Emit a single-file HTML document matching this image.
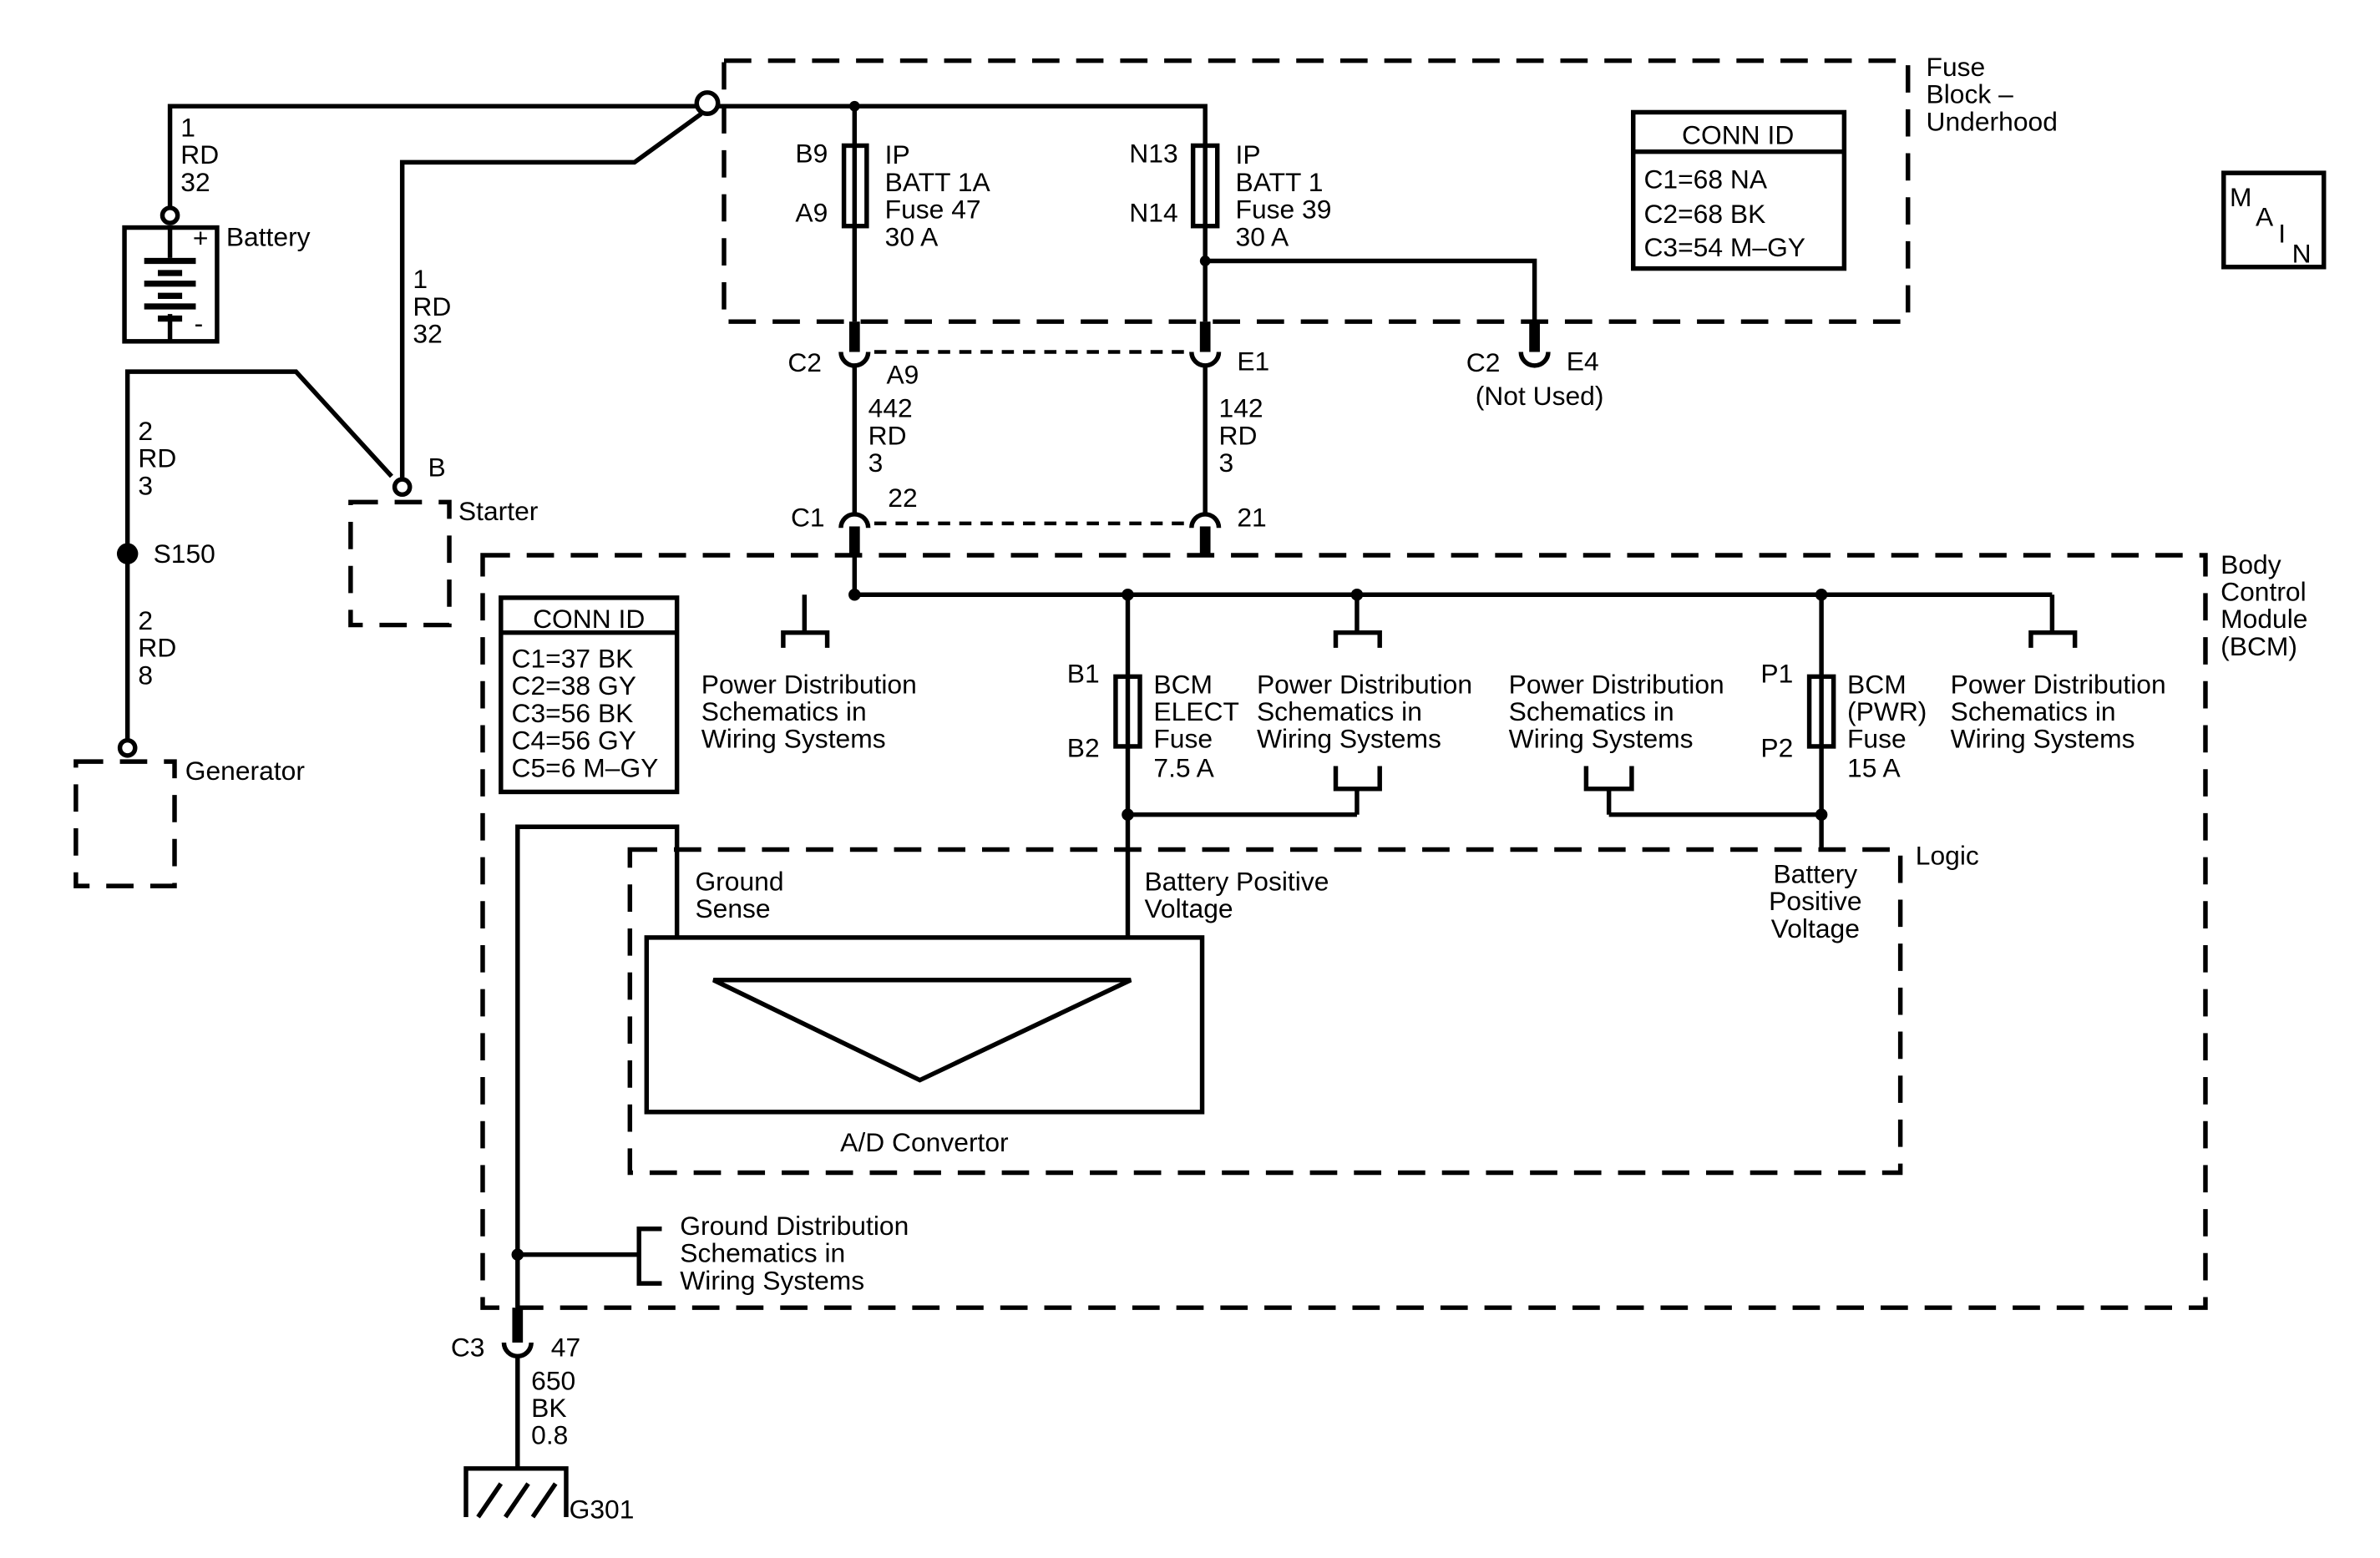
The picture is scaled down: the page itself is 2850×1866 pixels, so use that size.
<!DOCTYPE html>
<html><head><meta charset="utf-8"><style>
html,body{margin:0;padding:0;background:#fff}
svg{display:block}
text{font-family:"Liberation Sans",Arial,sans-serif;font-size:17.5px;fill:#000}
</style></head><body>
<svg width="2850" height="1866" viewBox="0 0 1568 1027" preserveAspectRatio="none" xmlns="http://www.w3.org/2000/svg">
<rect width="1568" height="1027" fill="#fff"/>
<g fill="none" stroke="#000" stroke-width="3">
<g stroke-dasharray="18 11">
<rect x="477" y="40" width="780" height="172"/>
<rect x="318" y="366" width="1135" height="496"/>
<rect x="415" y="560" width="837" height="213"/>
<rect x="231" y="331" width="65" height="81"/>
<rect x="50" y="502" width="65" height="82"/>
</g>
<g stroke-dasharray="8 6" stroke-width="2.5">
<line x1="576" y1="232" x2="782" y2="232"/>
<line x1="576" y1="345" x2="782" y2="345"/>
</g>
<polyline points="112,137 112,70 460,70"/>
<circle cx="112" cy="142" r="5"/>
<rect x="82" y="150" width="61" height="75"/>
<line x1="112" y1="150" x2="112" y2="170"/>
<line x1="112" y1="207" x2="112" y2="225"/>
<g stroke-width="4">
<line x1="95" y1="172" x2="129" y2="172"/><line x1="104" y1="180" x2="120" y2="180"/>
<line x1="95" y1="187" x2="129" y2="187"/><line x1="104" y1="195" x2="120" y2="195"/>
<line x1="95" y1="202" x2="129" y2="202"/><line x1="104" y1="210" x2="120" y2="210"/>
</g>
<circle cx="466" cy="68" r="7"/>
<polyline points="473,70 794,70 794,96"/>
<polyline points="462,75 418,107 265,107 265,316"/>
<circle cx="265" cy="321" r="5"/>
<polyline points="84,488 84,245 195,245 258,314"/>
<circle cx="84" cy="493" r="5"/>
<line x1="563" y1="70" x2="563" y2="212"/>
<rect x="556" y="96" width="15" height="53" fill="#fff"/>
<line x1="563" y1="96" x2="563" y2="149"/>
<line x1="794" y1="96" x2="794" y2="212"/>
<rect x="786" y="96" width="16" height="53" fill="#fff"/>
<line x1="794" y1="96" x2="794" y2="149"/>
<polyline points="794,172 1011,172 1011,212"/>
<path d="M554,232 A9,9 0 0 0 572,232"/>
<path d="M785,232 A9,9 0 0 0 803,232"/>
<path d="M1002,232 A9,9 0 0 0 1020,232"/>
<line x1="563" y1="241" x2="563" y2="338"/>
<line x1="794" y1="241" x2="794" y2="338"/>
<path d="M554,348 A9,9 0 0 1 572,348"/>
<path d="M785,348 A9,9 0 0 1 803,348"/>
<line x1="563" y1="365" x2="563" y2="392"/>
<line x1="563" y1="392" x2="1352" y2="392"/>
<polyline points="516,427 516,417 545,417 545,427"/><line x1="530" y1="392" x2="530" y2="417"/>
<polyline points="880,427 880,417 909,417 909,427"/><line x1="894" y1="392" x2="894" y2="417"/>
<polyline points="1338,427 1338,417 1367,417 1367,427"/><line x1="1352" y1="392" x2="1352" y2="417"/>
<polyline points="880,505 880,520 909,520 909,505"/><line x1="894" y1="520" x2="894" y2="537"/>
<polyline points="1045,505 1045,520 1075,520 1075,505"/><line x1="1060" y1="520" x2="1060" y2="537"/>
<line x1="743" y1="537" x2="894" y2="537"/>
<line x1="1060" y1="537" x2="1200" y2="537"/>
<line x1="743" y1="392" x2="743" y2="618"/>
<rect x="735" y="446" width="16" height="46" fill="#fff"/><line x1="743" y1="446" x2="743" y2="492"/>
<line x1="1200" y1="392" x2="1200" y2="560"/>
<rect x="1192" y="446" width="16" height="46" fill="#fff"/><line x1="1200" y1="446" x2="1200" y2="492"/>
<rect x="1076" y="74" width="139" height="103"/><line x1="1076" y1="100" x2="1215" y2="100"/>
<rect x="1465" y="114" width="66" height="62"/>
<rect x="330" y="394" width="116" height="128"/><line x1="330" y1="417" x2="446" y2="417"/>
<polyline points="341,862 341,545 446,545 446,618"/>
<line x1="341" y1="827" x2="421" y2="827"/>
<polyline points="436,810 421,810 421,846 436,846"/>
<path d="M332,885 A9,9 0 0 0 350,885"/>
<line x1="341" y1="894" x2="341" y2="968"/>
<polyline points="307,1000 307,968 373,968 373,1000"/>
<line x1="315" y1="1000" x2="330" y2="978"/>
<line x1="333" y1="1000" x2="348" y2="978"/>
<line x1="351" y1="1000" x2="366" y2="978"/>
<rect x="426" y="618" width="366" height="115"/>
<polygon points="470,646 745,646 606,712"/>
</g>
<g fill="#000">
<circle cx="563" cy="70" r="3.5"/><circle cx="794" cy="172" r="3.5"/>
<circle cx="563" cy="392" r="4"/><circle cx="743" cy="392" r="4"/><circle cx="894" cy="392" r="4"/><circle cx="1200" cy="392" r="4"/>
<circle cx="743" cy="537" r="4"/><circle cx="1200" cy="537" r="4"/>
<circle cx="341" cy="827" r="4"/>
<circle cx="84" cy="365" r="7"/>
<rect x="559.5" y="212" width="7" height="20"/><rect x="790.5" y="212" width="7" height="20"/><rect x="1007.5" y="212" width="7" height="20"/>
<rect x="559.5" y="347" width="7" height="20"/><rect x="790.5" y="347" width="7" height="20"/>
<rect x="337.5" y="862" width="7" height="23"/>
</g>
<g>
<text x="119" y="90">1</text><text x="119" y="108">RD</text><text x="119" y="126">32</text>
<text x="127" y="163" font-size="14">+</text><text x="128" y="219" font-size="14">-</text>
<text x="149" y="162">Battery</text>
<text x="272" y="190">1</text><text x="272" y="208">RD</text><text x="272" y="226">32</text>
<text x="91" y="290">2</text><text x="91" y="308">RD</text><text x="91" y="326">3</text>
<text x="101" y="371">S150</text>
<text x="91" y="415">2</text><text x="91" y="433">RD</text><text x="91" y="451">8</text>
<text x="282" y="314">B</text><text x="302" y="343">Starter</text>
<text x="122" y="514">Generator</text>
<text x="1269" y="50">Fuse</text><text x="1269" y="68">Block –</text><text x="1269" y="86">Underhood</text>
<text x="1145" y="95" text-anchor="middle" font-size="18.5">CONN ID</text>
<text x="1083" y="124" font-size="18.5">C1=68 NA</text><text x="1083" y="147" font-size="18.5">C2=68 BK</text><text x="1083" y="169" font-size="18.5">C3=54 M–GY</text>
<text x="1469" y="136">M</text><text x="1486" y="149">A</text><text x="1501" y="160">I</text><text x="1510" y="173">N</text>
<text x="524" y="107">B9</text><text x="524" y="146">A9</text>
<text x="583" y="108">IP</text><text x="583" y="126">BATT 1A</text><text x="583" y="144">Fuse 47</text><text x="583" y="162">30 A</text>
<text x="744" y="107">N13</text><text x="744" y="146">N14</text>
<text x="814" y="108">IP</text><text x="814" y="126">BATT 1</text><text x="814" y="144">Fuse 39</text><text x="814" y="162">30 A</text>
<text x="519" y="245">C2</text><text x="584" y="253">A9</text><text x="815" y="244">E1</text>
<text x="966" y="245">C2</text><text x="1032" y="244">E4</text><text x="972" y="267">(Not Used)</text>
<text x="572" y="275">442</text><text x="572" y="293">RD</text><text x="572" y="311">3</text>
<text x="803" y="275">142</text><text x="803" y="293">RD</text><text x="803" y="311">3</text>
<text x="521" y="347">C1</text><text x="585" y="334">22</text><text x="815" y="347">21</text>
<text x="1463" y="378">Body</text><text x="1463" y="396">Control</text><text x="1463" y="414">Module</text><text x="1463" y="432">(BCM)</text>
<text x="388" y="414" text-anchor="middle">CONN ID</text>
<text x="337" y="440">C1=37 BK</text><text x="337" y="458">C2=38 GY</text><text x="337" y="476">C3=56 BK</text><text x="337" y="494">C4=56 GY</text><text x="337" y="512">C5=6 M–GY</text>
<text x="462" y="457">Power Distribution</text><text x="462" y="475">Schematics in</text><text x="462" y="493">Wiring Systems</text>
<text x="828" y="457">Power Distribution</text><text x="828" y="475">Schematics in</text><text x="828" y="493">Wiring Systems</text>
<text x="994" y="457">Power Distribution</text><text x="994" y="475">Schematics in</text><text x="994" y="493">Wiring Systems</text>
<text x="1285" y="457">Power Distribution</text><text x="1285" y="475">Schematics in</text><text x="1285" y="493">Wiring Systems</text>
<text x="703" y="450">B1</text><text x="703" y="499">B2</text>
<text x="760" y="457">BCM</text><text x="760" y="475">ELECT</text><text x="760" y="493">Fuse</text><text x="760" y="512">7.5 A</text>
<text x="1160" y="450">P1</text><text x="1160" y="499">P2</text>
<text x="1217" y="457">BCM</text><text x="1217" y="475">(PWR)</text><text x="1217" y="493">Fuse</text><text x="1217" y="512">15 A</text>
<text x="1262" y="570">Logic</text>
<text x="458" y="587">Ground</text><text x="458" y="605">Sense</text>
<text x="754" y="587">Battery Positive</text><text x="754" y="605">Voltage</text>
<text x="1196" y="582" text-anchor="middle">Battery</text><text x="1196" y="600" text-anchor="middle">Positive</text><text x="1196" y="618" text-anchor="middle">Voltage</text>
<text x="609" y="759" text-anchor="middle">A/D Convertor</text>
<text x="448" y="814">Ground Distribution</text><text x="448" y="832">Schematics in</text><text x="448" y="850">Wiring Systems</text>
<text x="297" y="894">C3</text><text x="363" y="894">47</text>
<text x="350" y="916">650</text><text x="350" y="934">BK</text><text x="350" y="952">0.8</text>
<text x="375" y="1001">G301</text>
</g>
</svg>
</body></html>
